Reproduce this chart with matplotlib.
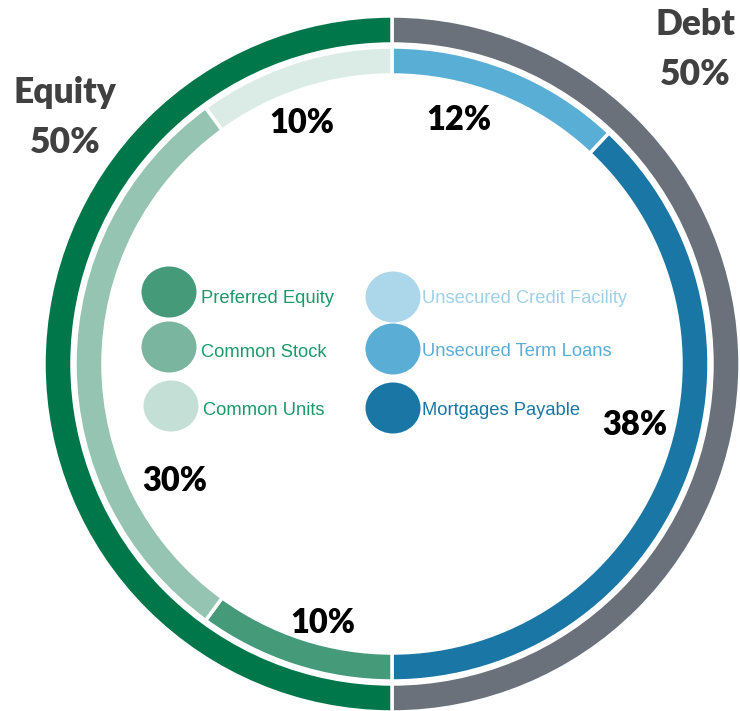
import matplotlib
matplotlib.use("Agg")
import matplotlib.pyplot as plt
from matplotlib.patches import Ellipse

# ---- data ----
outer_labels = ["Debt", "Equity"]
outer_values = [50, 50]
outer_colors = ["#6a717b", "#00774a"]

inner_labels = ["Unsecured Credit Facility", "Unsecured Term Loans", "Mortgages Payable",
                "Preferred Equity", "Common Stock", "Common Units"]
inner_values = [0, 12, 38, 10, 30, 10]
inner_colors = ["#acd6ea", "#59aed6", "#1a77a5", "#459a7a", "#96c4b2", "#dbece6"]

legend_dot_colors = {"Preferred Equity": "#459a7a", "Common Stock": "#7ab5a0",
                     "Common Units": "#c4dfd5", "Unsecured Credit Facility": "#acd6ea",
                     "Unsecured Term Loans": "#5aaed6", "Mortgages Payable": "#1a77a5"}
legend_text_colors = {"Preferred Equity": "#1a9a6a", "Common Stock": "#1a9a6a",
                      "Common Units": "#1a9a6a", "Unsecured Credit Facility": "#9fd0e8",
                      "Unsecured Term Loans": "#5aaed6", "Mortgages Payable": "#1a77a5"}

# ---- layout (pixel coordinates) ----
W, H = 740, 711
cx, cy = 392, 364
r_outer, w_ring, gap = 348, 28, 3

fig = plt.figure(figsize=(W / 100, H / 100), dpi=100)
ax = fig.add_axes([0, 0, 1, 1])

ax.pie(outer_values, radius=r_outer, center=(cx, cy), startangle=-90, counterclock=True,
       colors=outer_colors, wedgeprops=dict(width=w_ring, edgecolor="white", linewidth=2.5),
       frame=True)

nz = [(v, c) for v, c in zip(inner_values, inner_colors) if v > 0]
ax.pie([v for v, _ in nz], radius=r_outer - w_ring - gap, center=(cx, cy), startangle=-90,
       counterclock=True, colors=[c for _, c in nz],
       wedgeprops=dict(width=w_ring, edgecolor="white", linewidth=2.5), frame=True)
ax.set_xlim(0, W)
ax.set_ylim(H, 0)
ax.set_aspect("equal")
ax.axis("off")

# percentage labels (inner ring)
pct_pos = {"Unsecured Term Loans": (459, 130), "Mortgages Payable": (635, 435),
           "Preferred Equity": (323, 633), "Common Stock": (175, 491),
           "Common Units": (302, 133)}
for lab, val in zip(inner_labels, inner_values):
    if val > 0:
        x, y = pct_pos[lab]
        ax.text(x, y, f"{val}%", ha="center", va="baseline", fontsize=23.5,
                fontweight="heavy", family="Lato", color="black")

# group labels
grp_pos = {"Debt": (695, 35, 85), "Equity": (65, 103, 153)}
for lab, val in zip(outer_labels, outer_values):
    x, y1, y2 = grp_pos[lab]
    ax.text(x, y1, lab, ha="center", va="baseline", fontsize=25.5, fontweight="heavy",
            family="Lato", color="#404040")
    ax.text(x, y2, f"{val}%", ha="center", va="baseline", fontsize=25.5, fontweight="heavy",
            family="Lato", color="#404040")

# legend
leg_pos = {"Preferred Equity": (169, 292, 201, 303),
           "Common Stock": (169, 347, 201, 357),
           "Common Units": (171, 406, 203, 415),
           "Unsecured Credit Facility": (393, 297, 422, 303),
           "Unsecured Term Loans": (393, 349, 422, 356),
           "Mortgages Payable": (393, 408, 422, 415)}
for lab in inner_labels:
    ex, ey, tx, ty = leg_pos[lab]
    ax.add_patch(Ellipse((ex, ey), 55, 51, color=legend_dot_colors[lab], lw=0))
    ax.text(tx, ty, lab, ha="left", va="baseline", fontsize=13.2,
            family="Liberation Sans", color=legend_text_colors[lab])

fig.savefig("out.png", dpi=100)
